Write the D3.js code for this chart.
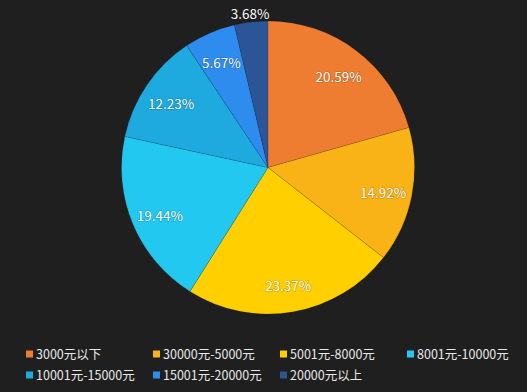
<!DOCTYPE html>
<html><head><meta charset="utf-8">
<script src="https://cdn.jsdelivr.net/npm/d3@7"></script>
<style>
html,body{margin:0;padding:0;background:#1f1f1f;}
svg{display:block;}
text{font-family:"Noto Sans CJK SC","Microsoft YaHei",sans-serif;}
</style></head>
<body>
<svg id="chart" width="527" height="392"></svg>
<script>
const categories = ["3000元以下","30000元-5000元","5001元-8000元","8001元-10000元","10001元-15000元","15001元-20000元","20000元以上"];
const values = [20.59,14.92,23.37,19.44,12.23,5.67,3.68];
const colors = ["#ee7d31","#fab316","#ffcf00","#23c8f1","#1eaadf","#2f8cef","#2c5597"];

const W=527,H=392;
const svg=d3.select("#chart");
svg.append("rect").attr("width",W).attr("height",H).attr("fill","#1f1f1f");
const cx=268, cy=167.5, R=146.5;
const g=svg.append("g").attr("transform",`translate(${cx},${cy})`);
const pie=d3.pie().sort(null).value(d=>d)(values);
const arc=d3.arc().innerRadius(0).outerRadius(R);
g.selectAll("path").data(pie).join("path")
  .attr("d",arc).attr("fill",(d,i)=>colors[i])
  .attr("stroke","rgba(0,0,0,0.15)").attr("stroke-width",0.8);

const total=d3.sum(values);
const inner=d3.arc().innerRadius(R*0.8).outerRadius(R*0.8);
const outer=d3.arc().innerRadius(R+8).outerRadius(R+8);
g.selectAll("text.lbl").data(pie).join("text").attr("class","lbl")
  .attr("transform",d=>{const small=d.value/total<0.04;const p=(small?outer:inner).centroid(d);return `translate(${p[0]},${p[1]+(small?0:3)})`;})
  .attr("text-anchor","middle").attr("dy","0.35em")
  .attr("fill","#fff").attr("font-size",13.5)
  .attr("stroke","rgba(0,0,0,0.25)").attr("stroke-width",1.2).attr("paint-order","stroke")
  .text(d=>d.value.toFixed(2)+"%");

// legend
const colX=d3.scalePoint().domain([0,1,2,3]).range([26,407]);
const rowY=d3.scalePoint().domain([0,1]).range([354,375]);
const lg=svg.append("g");
categories.forEach((c,i)=>{
  const x=colX(i%4), y=rowY(Math.floor(i/4));
  lg.append("rect").attr("x",x).attr("y",y-3.5).attr("width",7).attr("height",7).attr("fill",colors[i]);
  lg.append("text").attr("x",x+10).attr("y",y).attr("dy","0.36em")
    .attr("fill","#e8e8e8").attr("font-size",12.5).text(c);
});
</script>
</body></html>
